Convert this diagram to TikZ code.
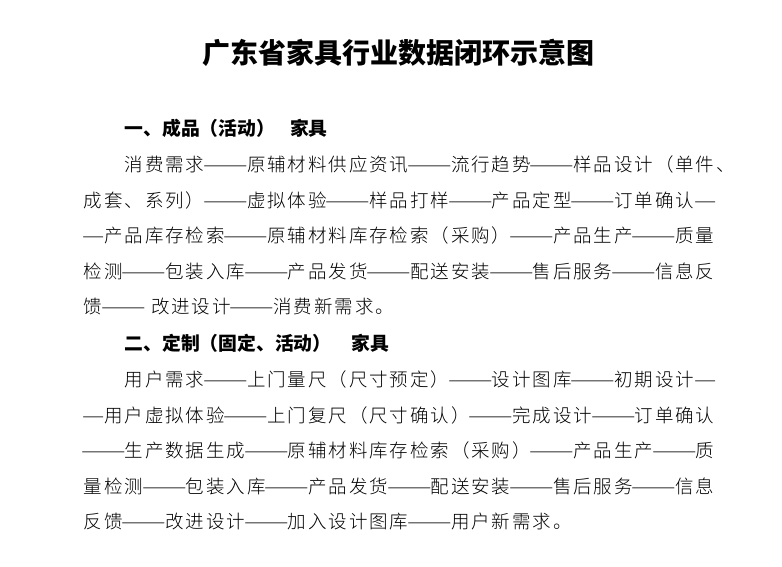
\documentclass[tikz,border=0pt]{standalone}
\usepackage{fontspec}
\usepackage{graphicx}
\newfontfamily\cjk{Noto Sans CJK SC}
\newfontfamily\cjklight{Noto Sans CJK SC Light}
\newlength\pitch
\setlength\pitch{20.4pt}
\newcommand\Dsh{\makebox[2\pitch]{\resizebox{2.18\pitch}{\height}{——}}}
\newcommand\dsh{\makebox[\pitch]{\resizebox{1.09\pitch}{\height}{—}}}
\newcommand\Sp{\hspace{6pt}}
\newcommand\myemstrut{\rule[-0.12em]{0pt}{1em}}
\makeatletter
\def\cl#1{\myemstrut\clA#1\relax}
\def\clA#1{\ifx\relax#1\else\clB{#1}\expandafter\clA\fi}
\def\clB#1{\ifx#1\Dsh #1\else\ifx#1\dsh #1\else\ifx#1\Sp #1\else\makebox[\pitch]{#1}\fi\fi\fi}
\makeatother
\tikzset{
  body/.style={anchor=west, inner sep=0pt, font=\cjklight\fontsize{18.5}{18.5}\selectfont},
  head/.style={anchor=west, inner sep=0pt, font=\cjk\bfseries\fontsize{18.8}{18.8}\selectfont},
  titlestyle/.style={anchor=center, inner sep=0pt, font=\cjk\bfseries\fontsize{28}{28}\selectfont}
}
\begin{document}
\begin{tikzpicture}[x=1pt,y=-1pt]
\useasboundingbox (0,0) rectangle (782,566);
\fill[white] (0,0) rectangle (782,566);
\node[titlestyle] (title) at (398.5,52.5) {\myemstrut 广东省家具行业数据闭环示意图};
% section 1
\node[head] (h1) at (124.5,128) {\myemstrut 一、成品（活动）\hspace{15pt}家具};
\node[body] (a1) at (123.6,164.5) {\cl{消费需求\Dsh 原辅材料供应资讯\Dsh 流行趋势\Dsh 样品设计（单件、}};
\node[body] (a2) at (82.8,200.1) {\cl{成套、系列）\Dsh 虚拟体验\Dsh 样品打样\Dsh 产品定型\Dsh 订单确认\dsh}};
\node[body] (a3) at (82.8,235.7) {\cl{\dsh 产品库存检索\Dsh 原辅材料库存检索（采购）\Dsh 产品生产\Dsh 质量}};
\node[body] (a4) at (82.8,271.3) {\cl{检测\Dsh 包装入库\Dsh 产品发货\Dsh 配送安装\Dsh 售后服务\Dsh 信息反}};
\node[body] (a5) at (82.8,306.9) {\cl{馈\Dsh\Sp 改进设计\Dsh 消费新需求。}};
% section 2
\node[head] (h2) at (124.5,343) {\myemstrut 二、定制（固定、活动）\hspace{20pt}家具};
\node[body] (b1) at (123.6,379.5) {\cl{用户需求\Dsh 上门量尺（尺寸预定）\Dsh 设计图库\Dsh 初期设计\dsh}};
\node[body] (b2) at (82.8,415.1) {\cl{\dsh 用户虚拟体验\Dsh 上门复尺（尺寸确认）\Dsh 完成设计\Dsh 订单确认}};
\node[body] (b3) at (82.8,450.7) {\cl{\Dsh 生产数据生成\Dsh 原辅材料库存检索（采购）\Dsh 产品生产\Dsh 质}};
\node[body] (b4) at (82.8,486.3) {\cl{量检测\Dsh 包装入库\Dsh 产品发货\Dsh 配送安装\Dsh 售后服务\Dsh 信息}};
\node[body] (b5) at (82.8,521.9) {\cl{反馈\Dsh 改进设计\Dsh 加入设计图库\Dsh 用户新需求。}};
\end{tikzpicture}
\end{document}
